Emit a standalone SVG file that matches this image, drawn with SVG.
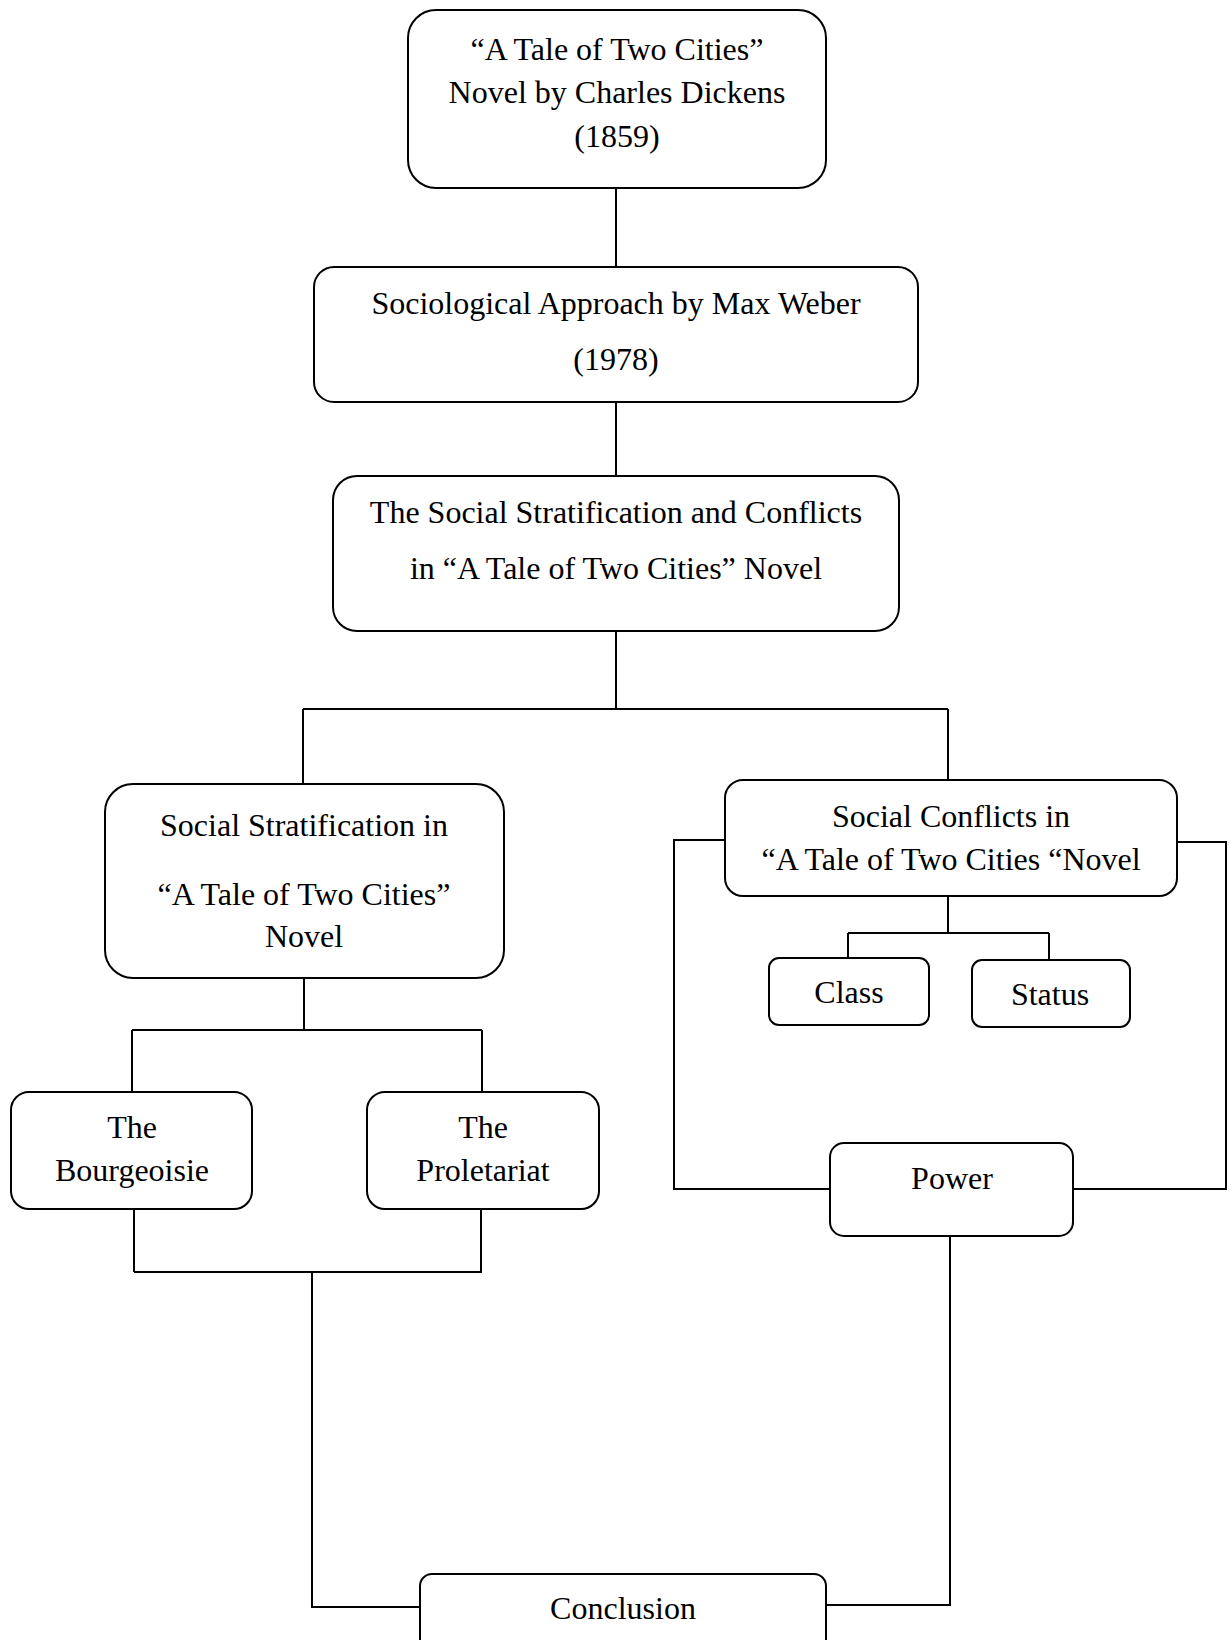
<svg xmlns="http://www.w3.org/2000/svg" width="1231" height="1640" viewBox="0 0 1231 1640">
<style>
.box{fill:#fff;stroke:#000;stroke-width:2}
.t{font-family:"Liberation Serif","Times New Roman",serif;font-size:32px;fill:#000;text-anchor:middle}
.c{fill:none;stroke:#000;stroke-width:2}
</style>
<rect width="1231" height="1640" fill="#fff"/>
<g id="connectors">
<path class="c" d="M616 188V267"/>
<path class="c" d="M616 402V476"/>
<path class="c" d="M616 631V709M303 709H948M303 709V784M948 709V780"/>
<path class="c" d="M304 978V1030M132 1030H482M132 1030V1092M482 1030V1092"/>
<path class="c" d="M134 1209V1272M481 1209V1272M134 1272H482M312 1272V1607H420"/>
<path class="c" d="M725 840H674V1189H830"/>
<path class="c" d="M1177 842H1226V1189H1073"/>
<path class="c" d="M948 896V933M848 933H1049M848 933V958M1049 933V960"/>
<path class="c" d="M950 1236V1605H826"/>
</g>
<g id="n1"><rect class="box" x="408" y="10" width="418" height="178" rx="28"/>
<text class="t" x="617" y="60">“A Tale of Two Cities”</text>
<text class="t" x="617" y="103">Novel by Charles Dickens</text>
<text class="t" x="617" y="147">(1859)</text></g>
<g id="n2"><rect class="box" x="314" y="267" width="604" height="135" rx="20"/>
<text class="t" x="616" y="314">Sociological Approach by Max Weber</text>
<text class="t" x="616" y="370">(1978)</text></g>
<g id="n3"><rect class="box" x="333" y="476" width="566" height="155" rx="24"/>
<text class="t" x="616" y="523">The Social Stratification and Conflicts</text>
<text class="t" x="616" y="579">in “A Tale of Two Cities” Novel</text></g>
<g id="n4"><rect class="box" x="105" y="784" width="399" height="194" rx="28"/>
<text class="t" x="304" y="836">Social Stratification in</text>
<text class="t" x="304" y="905">“A Tale of Two Cities”</text>
<text class="t" x="304" y="947">Novel</text></g>
<g id="n5"><rect class="box" x="725" y="780" width="452" height="116" rx="18"/>
<text class="t" x="951" y="827">Social Conflicts in</text>
<text class="t" x="951" y="870">“A Tale of Two Cities “Novel</text></g>
<g id="n6"><rect class="box" x="769" y="958" width="160" height="67" rx="10"/>
<text class="t" x="849" y="1003">Class</text></g>
<g id="n7"><rect class="box" x="972" y="960" width="158" height="67" rx="10"/>
<text class="t" x="1050" y="1005">Status</text></g>
<g id="n8"><rect class="box" x="11" y="1092" width="241" height="117" rx="18"/>
<text class="t" x="132" y="1138">The</text>
<text class="t" x="132" y="1181">Bourgeoisie</text></g>
<g id="n9"><rect class="box" x="367" y="1092" width="232" height="117" rx="18"/>
<text class="t" x="483" y="1138">The</text>
<text class="t" x="483" y="1181">Proletariat</text></g>
<g id="n10"><rect class="box" x="830" y="1143" width="243" height="93" rx="14"/>
<text class="t" x="952" y="1189">Power</text></g>
<g id="n11"><rect class="box" x="420" y="1574" width="406" height="90" rx="12"/>
<text class="t" x="623" y="1619">Conclusion</text></g>
</svg>
